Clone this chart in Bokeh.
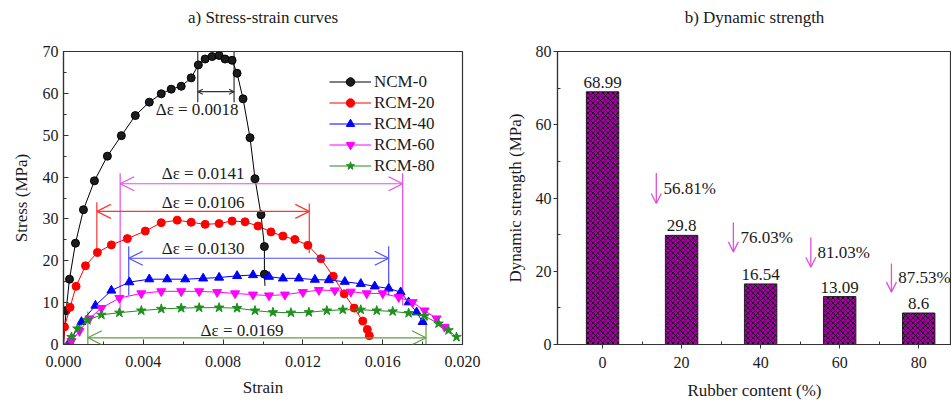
from bokeh.plotting import figure
from bokeh.layouts import row
from bokeh.models import (ColumnDataSource, FixedTicker, NumeralTickFormatter, Arrow, OpenHead,
                          Range1d, Legend, LegendItem, Title)
from bokeh.embed import file_html
from bokeh.resources import INLINE
from bokeh.core.properties import value

FONT = "'Liberation Serif', 'Times New Roman', serif"
AXFONT = "serif"
TXT = "#1a1a1a"

# ---------------- data: a) stress-strain curves ----------------
ncm0_strain = [0.0, 0.00013, 0.0003, 0.0006, 0.001, 0.00155, 0.0022, 0.0029, 0.0036, 0.0043, 0.0049,
               0.0054, 0.0059, 0.0064, 0.00676, 0.0071, 0.00745, 0.0078, 0.0081, 0.00845, 0.0087,
               0.009, 0.00935, 0.0096, 0.0099, 0.01007, 0.01007]
ncm0_stress = [0.0, 8.1, 15.6, 24.2, 32.2, 39.1, 45.0, 49.9, 54.7, 57.9, 59.9,
               61.0, 61.7, 63.7, 66.8, 68.2, 68.8, 69.05, 68.2, 67.9, 64.8,
               58.7, 49.4, 39.6, 31.0, 23.4, 16.8]
ncm0_tail_strain = [0.01007, 0.0101]
ncm0_tail_stress = [16.8, 14.0]

rcm20_strain = [0.0, 0.00005, 0.00033, 0.00063, 0.0011, 0.0017, 0.0024, 0.0032, 0.0041, 0.0049, 0.0057,
                0.0064, 0.0071, 0.0078, 0.00845, 0.0091, 0.00975, 0.0104, 0.011, 0.0116, 0.01225,
                0.0129, 0.01352, 0.01407, 0.01457, 0.015, 0.01523, 0.01533]
rcm20_stress = [0.0, 4.2, 8.9, 13.9, 18.8, 22.0, 23.8, 25.3, 27.1, 29.1, 29.7,
                29.2, 28.7, 28.9, 29.5, 29.3, 28.3, 26.9, 25.9, 25.1, 23.7,
                20.5, 16.3, 12.1, 8.7, 5.6, 3.6, 2.1]

rcm40_strain = [0.0, 0.0003, 0.0009, 0.0016, 0.0024, 0.0033, 0.0043, 0.0052, 0.0061, 0.007, 0.0078,
                0.0087, 0.0095, 0.0103, 0.011, 0.0118, 0.0126, 0.0133, 0.0141, 0.0149, 0.0156,
                0.0163, 0.0169, 0.0173, 0.0177, 0.018]
rcm40_stress = [0.0, 0.6, 5.4, 9.3, 12.9, 14.9, 15.6, 15.6, 15.6, 15.8, 16.0,
                16.4, 16.6, 16.2, 15.8, 15.8, 15.5, 15.4, 15.0, 14.5, 13.9,
                13.4, 12.5, 10.1, 7.7, 5.4]

rcm60_strain = [0.0, 0.0004, 0.0008, 0.0013, 0.0019, 0.0028, 0.0039, 0.0049, 0.0059, 0.0068, 0.0077,
                0.0086, 0.0095, 0.0103, 0.0111, 0.012, 0.0128, 0.0136, 0.0144, 0.0152, 0.016,
                0.0168, 0.0175, 0.0181, 0.0187, 0.0191]
rcm60_stress = [0.0, 0.8, 3.2, 6.2, 8.7, 11.1, 12.2, 12.7, 12.7, 12.7, 12.5,
                12.2, 11.9, 11.7, 11.9, 12.5, 13.0, 12.9, 12.6, 12.2, 12.2,
                11.3, 10.1, 8.1, 6.2, 4.2]

rcm80_strain = [0.0, 0.0004, 0.0007, 0.0012, 0.0019, 0.0028, 0.0039, 0.0049, 0.0059, 0.0068, 0.0078,
                0.0087, 0.0096, 0.0105, 0.0114, 0.0123, 0.0132, 0.014, 0.0149, 0.0157, 0.0165,
                0.0173, 0.0181, 0.0188, 0.0193, 0.0197]
rcm80_stress = [0.0, 1.8, 3.8, 5.8, 7.1, 7.6, 8.1, 8.5, 8.7, 8.8, 8.8,
                8.7, 8.1, 7.7, 7.6, 7.7, 8.1, 8.3, 8.3, 8.1, 7.9,
                7.5, 6.8, 5.0, 3.4, 1.8]

# strain-range brackets (delta epsilon)
delta_labels = ["\u0394\u03b5 = 0.0018", "\u0394\u03b5 = 0.0141", "\u0394\u03b5 = 0.0106",
                "\u0394\u03b5 = 0.0130", "\u0394\u03b5 = 0.0169"]
delta_x0 = [0.00673, 0.00284, 0.00167, 0.00327, 0.00122]
delta_x1 = [0.00855, 0.0170, 0.01232, 0.0163, 0.01817]

# ---------------- data: b) dynamic strength ----------------
rubber_content = [0, 20, 40, 60, 80]
dyn_strength = [68.99, 29.8, 16.54, 13.09, 8.6]
strength_labels = ["68.99", "29.8", "16.54", "13.09", "8.6"]
drop_labels = ["56.81%", "76.03%", "81.03%", "87.53%"]

# ---------------- annotation placement (layout, not data) ----------------
bracket_y = [60.4, 38.4, 31.8, 20.6, 1.6]
bracket_left = [(57.9, 70.0), (7.0, 40.9), (21.2, 34.0), (11.7, 23.5), (0.0, 7.9)]
bracket_right = [(57.9, 70.0), (9.3, 40.9), (21.8, 33.7), (11.7, 23.5), (0.0, 7.9)]
bracket_text_x = [0.0067, 0.0070, 0.0070, 0.0070, 0.00895]
bracket_text_y = [56.2, 40.8, 34.0, 22.9, 3.4]
bracket_colors = ["#333333", "#e64ee6", "#ff3535", "#4d4dff", "#5e9e40"]
bracket_head = [5, 14, 14, 14, 14]

drop_x = [13.6, 33.1, 52.7, 73.1]
drop_top = [46.8, 33.3, 29.2, 22.1]
drop_bot = [38.5, 25.3, 21.1, 14.3]
drop_text_x = [15.4, 34.9, 54.4, 74.8]
drop_text_y = [42.7, 29.1, 25.0, 18.4]
PINK = "#e050d8"


def style_axes(p, inward):
    for ax in p.axis:
        ax.axis_line_color = "#333333"
        ax.axis_line_width = 1.2
        ax.major_tick_line_color = "#333333"
        ax.minor_tick_line_color = "#333333"
        ax.major_label_text_font = AXFONT
        ax.major_label_text_font_size = "16px"
        ax.major_label_text_color = TXT
        ax.axis_label_text_font = AXFONT
        ax.axis_label_text_font_size = "17px"
        ax.axis_label_text_font_style = "normal"
        ax.axis_label_text_color = TXT
        if inward:
            ax.major_tick_in = 5
            ax.major_tick_out = 0
            ax.minor_tick_in = 3
            ax.minor_tick_out = 0
        else:
            ax.major_tick_in = 0
            ax.major_tick_out = 4
            ax.minor_tick_in = 3
            ax.minor_tick_out = 0
    p.grid.visible = False
    p.outline_line_color = "#333333"
    p.outline_line_width = 1.2


def add_title(p, text):
    # spacer keeps the caption well above the frame, as in the original
    p.add_layout(Title(text=" ", standoff=0, text_font=FONT, text_font_size="17px"), "above")
    p.add_layout(Title(text=text, standoff=8, align="center", text_font=FONT, text_font_size="17px",
                       text_font_style="normal", text_color=TXT), "above")


# ================= figure a =================
p1 = figure(width=490, height=406, output_backend="svg", toolbar_location=None,
            x_range=Range1d(0, 0.020), y_range=Range1d(0, 70),
            min_border_left=63, min_border_right=28, min_border_top=50, min_border_bottom=59)
p1.xaxis.axis_label = "Strain"
p1.yaxis.axis_label = "Stress (MPa)"
p1.xaxis.ticker = FixedTicker(ticks=[0, 0.004, 0.008, 0.012, 0.016, 0.020],
                              minor_ticks=[0.002, 0.006, 0.010, 0.014, 0.018])
p1.xaxis.formatter = NumeralTickFormatter(format="0.000")
p1.yaxis.ticker = FixedTicker(ticks=list(range(0, 71, 10)), minor_ticks=list(range(5, 70, 10)))
style_axes(p1, inward=True)
p1.xaxis.major_label_standoff = 11
p1.xaxis.axis_label_standoff = 8
p1.yaxis.major_label_standoff = 5
p1.yaxis.axis_label_standoff = 9
add_title(p1, "a) Stress-strain curves")

# brackets
for i in range(len(delta_labels)):
    c = bracket_colors[i]
    p1.segment(x0=[delta_x0[i], delta_x1[i]], x1=[delta_x0[i], delta_x1[i]],
               y0=[bracket_left[i][0], bracket_right[i][0]],
               y1=[bracket_left[i][1], bracket_right[i][1]],
               line_color=c, line_width=1.2)
    hs = bracket_head[i]
    p1.add_layout(Arrow(x_start=delta_x0[i], y_start=bracket_y[i], x_end=delta_x1[i], y_end=bracket_y[i],
                        line_color=c, line_width=1.2,
                        start=OpenHead(size=hs, line_color=c, line_width=1.2),
                        end=OpenHead(size=hs, line_color=c, line_width=1.2)))
p1.text(x=bracket_text_x, y=bracket_text_y, text=delta_labels, text_font=value(FONT),
        text_font_size="17px", text_align="center", text_baseline="middle", text_color=TXT)

series = [
    ("NCM-0", ncm0_strain, ncm0_stress, "#000000", "#1c1c1c", "circle", 8),
    ("RCM-20", rcm20_strain, rcm20_stress, "#ff0000", "#ff0000", "circle", 8),
    ("RCM-40", rcm40_strain, rcm40_stress, "#0000ff", "#0000ff", "triangle", 9),
    ("RCM-60", rcm60_strain, rcm60_stress, "#ff00ff", "#ff00ff", "inverted_triangle", 9),
    ("RCM-80", rcm80_strain, rcm80_stress, "#1f8f1f", "#1f8f1f", "star", 10),
]
items = []
for name, xs, ys, lc, fc, marker, sz in series:
    src = ColumnDataSource(dict(x=xs, y=ys))
    ln = p1.line("x", "y", source=src, line_color=lc, line_width=1)
    renderers = [ln]
    if name == "NCM-0":
        p1.line(x=ncm0_tail_strain, y=ncm0_tail_stress, line_color=lc, line_width=1)
    sc = p1.scatter("x", "y", source=ColumnDataSource(dict(x=xs[1:], y=ys[1:])), marker=marker,
                    size=sz, fill_color=fc, line_color=lc)
    renderers.append(sc)
    items.append(LegendItem(label=name, renderers=renderers))

legend = Legend(items=items, location=(266, 168), orientation="vertical",
                label_text_font=FONT, label_text_font_size="17px", label_text_color=TXT,
                label_height=21, glyph_height=21, glyph_width=42, spacing=0, padding=0,
                margin=0, label_standoff=3, border_line_color=None, background_fill_alpha=0)
p1.add_layout(legend)

# ================= figure b =================
p2 = figure(width=461, height=406, output_backend="svg", toolbar_location=None,
            x_range=Range1d(-11.4, 88.3), y_range=Range1d(0, 80),
            min_border_left=67, min_border_right=0, min_border_top=51, min_border_bottom=62)
p2.xaxis.axis_label = "Rubber content (%)"
p2.yaxis.axis_label = "Dynamic strength (MPa)"
p2.xaxis.ticker = FixedTicker(ticks=rubber_content, minor_ticks=[10, 30, 50, 70])
p2.yaxis.ticker = FixedTicker(ticks=[0, 20, 40, 60, 80], minor_ticks=[10, 30, 50, 70])
style_axes(p2, inward=False)
p2.xaxis.major_label_standoff = 8
p2.xaxis.axis_label_standoff = 10
p2.yaxis.major_label_standoff = 2
p2.yaxis.axis_label_standoff = 8
add_title(p2, "b) Dynamic strength")

p2.vbar(x=rubber_content, top=dyn_strength, width=8.2, bottom=0,
        fill_color="#a000a0", line_color="#222222", line_width=1,
        hatch_pattern="diagonal_cross", hatch_color="#1a001a", hatch_scale=5, hatch_weight=1)
p2.text(x=rubber_content, y=dyn_strength, text=strength_labels, text_font=value(FONT),
        text_font_size="17px", text_align="center", text_baseline="bottom", y_offset=-4,
        text_color=TXT)
for i in range(len(drop_labels)):
    p2.add_layout(Arrow(x_start=drop_x[i], y_start=drop_top[i], x_end=drop_x[i], y_end=drop_bot[i],
                        line_color=PINK, line_width=1.3,
                        end=OpenHead(size=10, line_color=PINK, line_width=1.3)))
p2.text(x=drop_text_x, y=drop_text_y, text=drop_labels, text_font=value(FONT),
        text_font_size="17px", text_align="left", text_baseline="middle", text_color=TXT)

layout = row(p1, p2, spacing=0)
open("out.html", "w").write(file_html(layout, INLINE))
